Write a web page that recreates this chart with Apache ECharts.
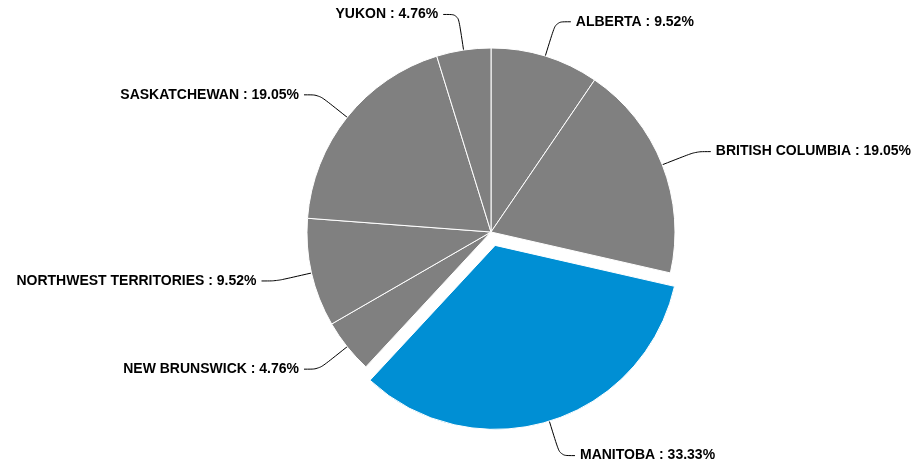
<!DOCTYPE html>
<html>
<head>
<meta charset="utf-8">
<script src="https://cdn.jsdelivr.net/npm/echarts@6/dist/echarts.min.js"></script>
<style>
html,body{margin:0;padding:0;background:#fff;}
#chart{width:917px;height:463px;}
</style>
</head>
<body>
<div id="chart"></div>
<script>
const categories = ['ALBERTA', 'BRITISH COLUMBIA', 'MANITOBA', 'NEW BRUNSWICK', 'NORTHWEST TERRITORIES', 'SASKATCHEWAN', 'YUKON'];
const values = [2, 4, 7, 1, 2, 4, 1];
const highlighted = 'MANITOBA';

const total = values.reduce((a, b) => a + b, 0);
const chart = echarts.init(document.getElementById('chart'), null, {renderer: 'canvas'});
const data = categories.map((name, i) => ({
  name: name,
  value: values[i],
  selected: name === highlighted,
  itemStyle: {color: name === highlighted ? '#008fd4' : '#808080'}
}));

chart.setOption({
  animation: false,
  series: [{
    type: 'pie',
    center: [491, 232],
    radius: 184,
    startAngle: 90,
    clockwise: true,
    avoidLabelOverlap: false,
    selectedMode: 'single',
    selectedOffset: 14,
    itemStyle: {borderColor: '#ffffff', borderWidth: 1},
    label: {
      show: true,
      formatter: function (p) { return p.name + ' : ' + (p.value / total * 100).toFixed(2) + '%'; },
      color: '#000',
      fontFamily: '"Liberation Sans", Arial, Helvetica, sans-serif',
      fontWeight: 'bold',
      fontSize: 14
    },
    labelLine: {
      show: true,
      length: 36,
      length2: 15,
      smooth: true,
      lineStyle: {color: '#000', width: 1}
    },
    emphasis: {disabled: true},
    data: data
  }]
});
</script>
</body>
</html>
